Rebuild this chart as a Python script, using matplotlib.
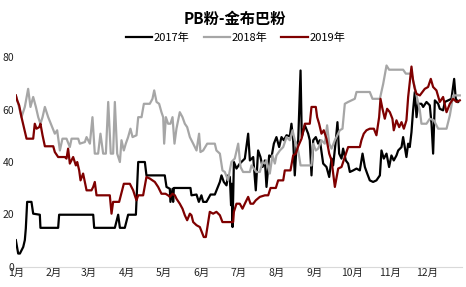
import numpy as np
import matplotlib
matplotlib.use('Agg')
import matplotlib.pyplot as plt

plt.rcParams['font.family'] = ['Noto Sans CJK SC', 'DejaVu Sans']

# month starts (day of year) and labels
month_days = [0, 31, 59, 90, 120, 151, 181, 212, 243, 273, 304, 334]
month_labels = ['%d月' % m for m in range(1, 13)]

# 2017 - day of year, value
days_2017 = [0, 1.9, 3.3, 6, 7.3, 8.1, 9.2, 12.7, 14.1, 19.5, 20, 34.4, 35.2, 62.9, 63.7, 80.5,
             83.2, 84.6, 88.6, 91.3, 97.6, 99.5, 104.9, 106.2, 121.1, 122.5, 125.2, 125.7, 127.4,
             127.9, 128.5, 142, 142.8, 146.9, 148.8, 150.9, 152.3, 155, 158.3, 161.8, 165.9, 167.2,
             169.1, 171.3, 172.6, 174, 175, 175.6, 176.2, 177.3, 179.4, 182.1, 186.2, 188.9, 190.3,
             193, 195.1, 197, 198.9, 200.6, 202.5, 203.8, 206, 207.9, 209.8, 211.9, 214.1, 216,
             217.9, 220.1, 222.8, 224.1, 225.5, 226.8, 228.2, 229.6, 231.5, 232.5, 235, 237.7, 239,
             240.4, 241.8, 243.9, 245.8, 247.2, 249.9, 252.6, 254.8, 256.7, 258, 260.2, 261.5,
             262.9, 264.8, 266.1, 268.3, 270.2, 271.6, 274.3, 277, 279.7, 281.9, 283.8, 285.7,
             287.8, 290.5, 293.2, 296, 297.3, 299.2, 301.4, 303.5, 305.4, 307.3, 309.5, 310.9,
             313.6, 314.9, 317.6, 319, 320.3, 321.7, 323, 324.4, 325.8, 327.1, 329.8, 331.2, 333.9,
             336.6, 338, 339.3, 340.7, 343.4, 344.7, 347.4, 348.8, 351.5, 354.2, 356.4, 357.7, 359.6]
vals_2017 = [10.2, 5.1, 5.1, 7.6, 10.2, 14.6, 24.8, 24.8, 20.3, 19.9, 14.9, 14.9, 19.9, 19.9, 14.9, 14.9,
             19.9, 14.9, 14.9, 19.9, 19.9, 40, 40, 34.9, 34.9, 30.5, 29.8, 24.8, 29.8,
             24.8, 30.1, 30.1, 27.3, 27.6, 24.8, 27.3, 24.8, 24.8, 27.6, 27.6, 32.4, 34.9,
             32.4, 31.1, 34.9, 34.3, 23.5, 31.7, 15.2, 40, 37.5, 39.4, 41.3, 50.8, 40.6,
             41.9, 29.2, 44.4, 41.9, 38.1, 40.6, 30.5, 42.5, 41.9, 47, 49.5, 45.7, 49.5,
             48.3, 50.2, 49.8, 54.6, 48.3, 34.9, 45.7, 48.3, 74.9, 49.5, 54, 50.8, 48.3,
             34.9, 48.3, 49.5, 47, 48.3, 39.4, 38.1, 34.3, 41.3, 38.7, 48.3, 55.2,
             43.2, 41.3, 45.1, 40.6, 39.4, 36.2, 36.8, 37.5, 36.8, 43.2, 38.1, 35.6,
             33, 32.4, 33, 34.9, 44.4, 41.3, 43.2, 38.1, 42.5, 40.6, 42.5, 44.4,
             45.7, 49.5, 41.9, 47, 45.7, 51.4, 59.7, 66.7, 57.1, 62.2, 62.2, 61, 62.9,
             61.6, 54.6, 43.2, 63.5, 62.2, 60.3, 59.7, 62.9, 63.5, 64.1, 71.7, 64.1, 62.9]

# 2018
days_2018 = [0, 1.9, 4.6, 7.3, 10, 11.9, 14.1, 16.3, 18.2, 20, 21.7, 23.6, 26.3, 29, 31.7, 33.6,
             35.8, 37.9, 41.2, 43.9, 45.3, 50.7, 52, 56.1, 57.5, 60.2, 62.3, 64.2, 66.9, 68.8, 71,
             73.2, 75.1, 77.2, 79.1, 80.5, 82.4, 84.6, 85.9, 87.8, 89.4, 91.3, 93.2, 94.9, 98.1,
             99.5, 102.2, 104.1, 108.9, 111.1, 112.5, 114.4, 116.5, 118.4, 119.8, 120.6, 122,
             123.8, 125.7, 127.4, 129, 130.6, 133.3, 135.5, 137.4, 139.3, 141.5, 144.2, 146.9, 149,
             150.1, 152.3, 155.6, 161.8, 163.1, 165.9, 168, 169.9, 172.6, 174, 175.3, 178, 180.8,
             182.7, 184.8, 190.3, 191.6, 195.7, 198.4, 200.6, 202.5, 203.8, 206.5, 208.7, 210.6,
             211.9, 214.7, 217.4, 220.1, 222.8, 225, 226.8, 229.6, 231.5, 233.6, 240.4, 241.8,
             243.9, 245.8, 248.5, 251.2, 253.1, 254.8, 256.7, 259.4, 260.7, 263.4, 265.6, 267.5,
             270.2, 272.9, 275.6, 277, 287.8, 290, 296, 298.7, 301.4, 303.5, 314.9, 317.1, 321.7,
             324.4, 325.8, 328.5, 329.8, 333.9, 336.6, 339.9, 343.4, 350.2, 352.9, 355.6, 361]
vals_2018 = [65.4, 62.2, 57.1, 61, 67.9, 61, 64.8, 61, 57.1, 54.6, 57.1, 61, 57.1, 54, 50.8, 52.1,
             44.4, 48.9, 48.9, 45.7, 48.9, 48.9, 47, 47.6, 49.5, 47, 57.1, 43.2, 43.2, 50.8, 43.2,
             43.2, 62.9, 43.2, 43.2, 62.9, 43.2, 40, 48.3, 44.4, 47, 49.5, 52.7, 49.5, 50.2,
             57.1, 57.1, 62.2, 62.2, 64.1, 67.3, 62.9, 62.2, 59, 57.1, 47, 57.1,
             54.6, 54.6, 57.1, 47, 52.7, 59, 57.1, 54.6, 53.3, 49.5, 47, 44.4, 50.8,
             43.8, 44.4, 47, 47, 44.4, 43.2, 36.8, 36.2, 33, 36.8, 40, 41.3, 47,
             38.1, 36.2, 36.2, 38.7, 36.2, 36.2, 40, 39.4, 40.6, 35.6, 42.5, 39.4,
             42.5, 44.4, 45.7, 49.5, 48.3, 52.1, 48.3, 44.4, 38.7, 38.7, 38.7, 47,
             44.4, 45.1, 48.3, 47, 54, 47, 45.1, 48.3, 49.5, 52.1, 52.7, 62.2,
             62.9, 63.5, 64.1, 66.7, 66.7, 64.1, 64.1, 69.8, 76.8, 75.2, 75.2, 73.7, 73.7,
             68.6, 65.4, 59.7, 54.6, 54.6, 56.5, 55.9, 52.7, 52.7, 57.8, 65.4, 65.4]

# 2019
days_2019 = [0, 1.1, 2.7, 4.6, 6.5, 8.7, 14.1, 15.4, 16.8, 19, 20, 21.7, 23.6, 30.4, 31.7, 34.4,
             39.8, 41.2, 42.5, 43.9, 46.6, 48.8, 49.9, 51.5, 52.6, 54.7, 56.1, 57.5, 61.5, 62.9,
             64.2, 65.6, 76.4, 77.8, 79.1, 84, 85.4, 87.8, 92.7, 95.4, 96.7, 98.1, 99.5, 103.5,
             106.2, 108.9, 111.1, 113, 115.7, 118.4, 121.7, 123.8, 125.2, 127.4, 129.3, 130.6,
             133.3, 135.5, 137.4, 139.3, 141.5, 142.8, 144.2, 146.9, 149.6, 152.8, 154.5, 156.4,
             157.7, 160.4, 163.1, 165.9, 168, 176.7, 177.3, 179.4, 182.1, 184.3, 186.2, 188.9,
             190.8, 193, 195.1, 198.4, 202.5, 205.2, 207.1, 211.4, 213.3, 217.4, 218.7, 223.3,
             225.5, 227.7, 229.6, 232.3, 235, 239, 240.4, 243.9, 245, 246.6, 248.5, 250.4, 252.6,
             254.8, 256.7, 259.4, 262.1, 264.8, 267.5, 270.2, 279.7, 281, 282.9, 285.1, 287.8,
             291.1, 293.2, 295.4, 296.5, 298.1, 300, 301.9, 304.1, 306.2, 307.3, 309.5, 311.7,
             313.6, 315.5, 317.6, 319, 321.7, 323, 324.4, 325.8, 328.5, 330.6, 332.5, 335.2,
             337.4, 339.3, 342, 344.7, 347.4, 350.2, 352.9, 355.6, 358.3, 361]
vals_2019 = [65.4, 63.5, 61.6, 57.1, 53.3, 48.9, 48.9, 54.6, 52.7, 53.3, 54.6, 50.2, 46, 46, 43.8, 41.9,
             41.9, 41.3, 45.1, 39.4, 41.9, 38.7, 40, 36.8, 33, 35.6, 32.4, 29.2, 29.2, 30.5,
             32.4, 27.3, 27.3, 20.3, 24.8, 24.8, 27.3, 31.7, 31.7, 29.2, 27.3, 25.4, 27.3, 27.3,
             34.3, 33.7, 33, 32.4, 30.5, 27.9, 27.9, 27.3, 26.7, 27.9, 27.3, 26,
             24.1, 22.2, 19.7, 17.8, 20.3, 19.7, 17.1, 15.9, 15.2, 11.4, 11.4, 17.1,
             21, 20.3, 21, 19.7, 17.1, 17.1, 21, 24.1, 24.1, 22.2, 24.1, 26.7,
             24.1, 24.1, 25.4, 26.7, 27.3, 27.3, 30.1, 30.1, 33, 33, 36.8, 36.8,
             42.5, 43.2, 46, 48.9, 54.6, 54.6, 61, 61, 57.1, 54.6, 50.8, 52.1, 48.9,
             43.2, 40.6, 30.5, 37.5, 38.1, 41.9, 45.7, 45.7, 48.3, 50.8, 52.1, 52.7,
             52.7, 50.2, 57.1, 64.1, 60.3, 56.5, 60.3, 59, 56.5, 52.1, 55.9, 53.3,
             55.2, 52.7, 55.9, 64.8, 76.4, 71.1, 67.9, 66, 65.4, 66.7, 67.9, 68.6,
             71.7, 68.6, 67.3, 62.9, 64.8, 59, 62.2, 64.1, 62.9, 63.5]

fig = plt.figure(figsize=(4.66, 2.87), dpi=100)
ax = fig.add_axes([0.034, 0.07, 0.958, 0.731])

ax.plot(days_2017, vals_2017, color='black', lw=1.6, label='2017年')
ax.plot(days_2018, vals_2018, color='#a6a6a6', lw=1.6, label='2018年')
ax.plot(days_2019, vals_2019, color='#7f0000', lw=1.6, label='2019年')

ax.set_xlim(0, 363)
ax.set_ylim(0, 80)
ax.set_yticks([0, 20, 40, 60, 80])
ax.set_xticks(month_days)
ax.set_xticklabels(month_labels)
ax.tick_params(axis='both', length=0, labelsize=7.5, colors='#222222')
ax.tick_params(axis='x', pad=1)
ax.tick_params(axis='y', pad=1)

for s in ['top', 'right', 'left']:
    ax.spines[s].set_visible(False)
ax.spines['bottom'].set_color('#d9d9d9')
ax.spines['bottom'].set_linewidth(0.8)

fig.text(0.505, 0.935, 'PB粉-金布巴粉', ha='center', va='center', fontsize=11, fontweight='bold')
fig.legend(loc='center', bbox_to_anchor=(0.505, 0.868), ncol=3, frameon=False, fontsize=8,
           handlelength=2.4, handletextpad=0.1, columnspacing=1.3, borderpad=0)

fig.savefig('out.png', dpi=100)
